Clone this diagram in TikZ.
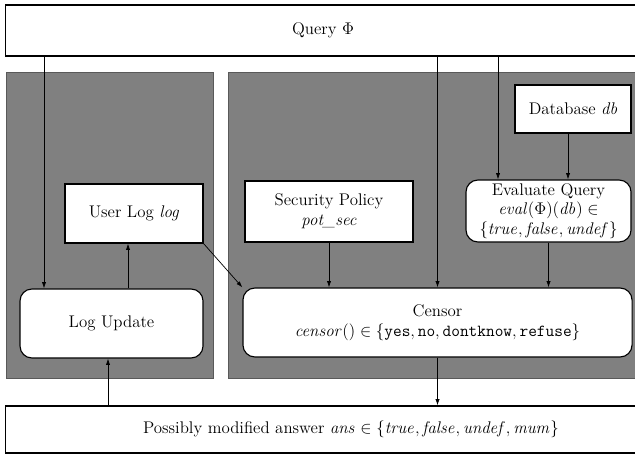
\documentclass[tikz,border=0pt]{standalone}
\usepackage{tikz}
\usetikzlibrary{positioning}
\usetikzlibrary{calc}
\usetikzlibrary{arrows.meta}

\begin{document}
\begin{tikzpicture}[x=0.025cm,y=-0.025cm,
        box/.style={draw,fill=white,line width=0.8pt,font=\large,align=center,inner sep=2pt},
        rbox/.style={box,rounded corners=0.3cm},
        panel/.style={fill=black!50,draw=black!65},
        arr/.style={-{Latex[length=4.5pt,width=3pt]},line width=0.5pt}]
            \useasboundingbox (0,0) rectangle (635,457);
            % the two grey areas
            \fill[panel] (6,72) rectangle (213,378);
            \fill[panel] (228,72) rectangle (650,378);
            % boxes
            \node[box,minimum width=15.85cm,minimum height=1.275cm] (query) at (323,30.5) {Query $\Phi$};
            \node[box,minimum width=3.45cm,minimum height=1.475cm] (userlog) at (134,213.5) {User Log \textit{log}};
            \node[rbox,minimum width=4.575cm,minimum height=1.725cm] (logupd) at (111.5,323.5) {Log Update};
            \node[box,minimum width=4.2cm,minimum height=1.525cm] (secpol) at (329,211.5) {Security Policy\\ \textit{pot\_sec}};
            \node[box,minimum width=2.9cm,minimum height=1.2cm] (db) at (573,109) {Database \textit{db}};
            \node[rbox,minimum width=4.125cm,minimum height=1.55cm,inner sep=1pt] (evalq) at (548.5,211) {Evaluate Query\\ $\mathit{eval}(\Phi)(\mathit{db})\in$\\ $\{\mathit{true},\mathit{false},\mathit{undef}\}$};
            \node[rbox,minimum width=9.725cm,minimum height=1.725cm] (censor) at (437.5,322.5) {Censor\\ $\mathit{censor}()\in\{\texttt{yes},\texttt{no},\texttt{dontknow},\texttt{refuse}\}$};
            \node[box,minimum width=17.25cm,minimum height=1.175cm] (answer) at (351,429.5) {Possibly modified answer $\mathit{ans}\in\{\mathit{true},\mathit{false},\mathit{undef},\mathit{mum}\}$};
            % connectors
            \draw[arr] (query.south -| 44,0) -- (logupd.north -| 44,0);
            \draw[arr] (logupd.north -| 128,0) -- (userlog.south -| 128,0);
            \draw[arr] (answer.north -| 108,0) -- (logupd.south -| 108,0);
            \draw[arr] (userlog.south east) -- (censor.north west);
            \draw[arr] (query.south -| censor.north) -- (censor.north);
            \draw[arr] (query.south -| 498,0) -- (evalq.north -| 498,0);
            \draw[arr] (db.south -| 568,0) -- (evalq.north -| 568,0);
            \draw[arr] (secpol.south) -- (censor.north -| secpol.south);
            \draw[arr] (evalq.south) -- (censor.north -| evalq.south);
            \draw[arr] (censor.south) -- (answer.north -| censor.south);
        \end{tikzpicture}
\end{document}
